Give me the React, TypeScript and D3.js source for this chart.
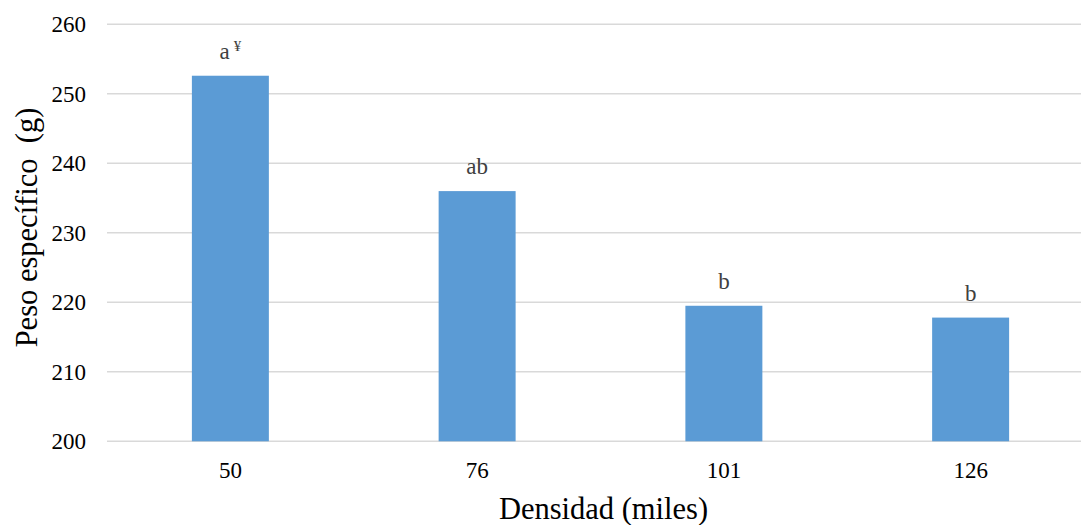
import React from "react";
import * as d3 from "d3";

const categories = ["50", "76", "101", "126"];
const values = [252.6, 236.0, 219.5, 217.8];
const letters = ["a", "ab", "b", "b"];
const superscripts = ["¥", "", "", ""];
const yTicks = [200, 210, 220, 230, 240, 250, 260];

export default function App() {
  const W = 1081, H = 525;
  const left = 107, right = 1094, top = 24.3, bottom = 441.3;
  const x = d3.scaleBand<string>().domain(categories).range([left, right]).paddingInner(0.688).paddingOuter(0.344);
  const y = d3.scaleLinear().domain([200, 260]).range([bottom, top]);
  const font = "'Times New Roman', Times, 'Liberation Serif', 'DejaVu Serif', serif";
  return (
    <svg width={W} height={H} style={{ position: "absolute", left: 0, top: 0, background: "#fff", fontFamily: font }}>
      {yTicks.map((t) => (
        <g key={t}>
          <line x1={left} x2={right} y1={y(t)} y2={y(t)} stroke="#d9d9d9" strokeWidth={1.5} />
          <text x={86} y={y(t)} dy="0.35em" textAnchor="end" fontSize={23} fill="#000">{t}</text>
        </g>
      ))}
      {categories.map((c, i) => {
        const bx = x(c)!;
        const bw = x.bandwidth();
        return (
          <g key={c}>
            <rect x={bx} y={y(values[i])} width={bw} height={y(200) - y(values[i])} fill="#5b9bd5" />
            <text x={bx + bw / 2} y={y(values[i]) - 17} textAnchor="middle" fontSize={23} fill="#404040">
              {letters[i]}
              {superscripts[i] ? (
                <tspan fontSize={15} dx={4} dy={-8}>{superscripts[i]}</tspan>
              ) : null}
            </text>
            <text x={bx + bw / 2} y={478} textAnchor="middle" fontSize={23} fill="#000">{c}</text>
          </g>
        );
      })}
      <text x={603.5} y={519} textAnchor="middle" fontSize={30.5} fill="#000">Densidad (miles)</text>
      <text transform={`translate(37, 227.5) rotate(-90)`} textAnchor="middle" fontSize={30.5} fill="#000" style={{ whiteSpace: "pre" }}>Peso específico  (g)</text>
    </svg>
  );
}
